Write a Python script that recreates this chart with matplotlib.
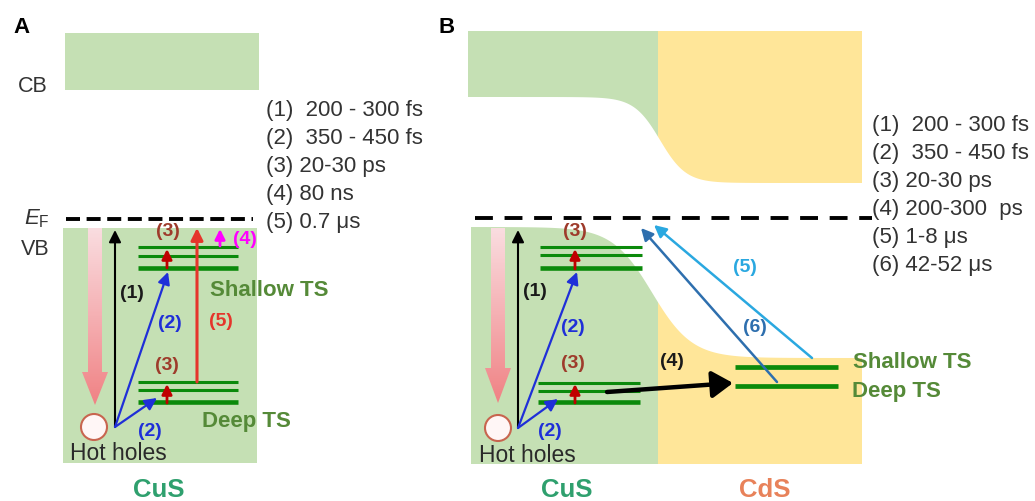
import numpy as np
import matplotlib
matplotlib.use('Agg')
import matplotlib.pyplot as plt
from matplotlib.patches import Polygon, Circle, Rectangle
from matplotlib.colors import LinearSegmentedColormap

plt.rcParams['font.family'] = ['Liberation Sans', 'DejaVu Sans']
plt.rcParams['mathtext.fontset'] = 'custom'
plt.rcParams['mathtext.rm'] = 'Liberation Sans'
plt.rcParams['mathtext.it'] = 'Liberation Sans:italic'

# 时间常数（图例文字）
lifetimes_A = ['(1)  200 - 300 fs', '(2)  350 - 450 fs', '(3) 20-30 ps',
               '(4) 80 ns', '(5) 0.7 μs']
lifetimes_B = ['(1)  200 - 300 fs', '(2)  350 - 450 fs', '(3) 20-30 ps',
               '(4) 200-300  ps', '(5) 1-8 μs', '(6) 42-52 μs']
materials = ['CuS', 'CdS']
band_labels = ['CB', 'VB']

# 颜色
GREEN_BAND = '#c5e0b4'
YELLOW_BAND = '#ffe699'
TS_GREEN = '#0b8a0b'
TS_TEXT = '#558a38'
BLUE = '#1f2fd8'
RED = '#e5352b'
DARK_RED = '#c00000'
BROWN = '#9e3b2b'
TXT = '#333333'

fig = plt.figure(figsize=(10.35, 5.01), dpi=100)
ax = fig.add_axes([0, 0, 1, 1])
ax.set_xlim(0, 1035)
ax.set_ylim(501, 0)
ax.axis('off')


def arrow(x0, y0, x1, y1, color, lw=1.5, hl=0.6, hw=0.3, ms=14, z=5):
    ax.annotate('', xy=(x1, y1), xytext=(x0, y0),
                arrowprops=dict(arrowstyle='-|>,head_length=%s,head_width=%s' % (hl, hw),
                                color=color, lw=lw, shrinkA=0, shrinkB=0,
                                mutation_scale=ms), zorder=z)


def label(x, y, s, color, size=14):
    ax.text(x, y, s, color=color, fontsize=size, fontweight='bold',
            ha='center', va='center', zorder=6)


def pink_arrow(cx, ytop, yhead, ytip):
    poly = Polygon([(cx - 7, ytop), (cx + 7, ytop), (cx + 7, yhead), (cx + 13, yhead),
                    (cx, ytip), (cx - 13, yhead), (cx - 7, yhead)],
                   closed=True, facecolor='none', edgecolor='none')
    ax.add_patch(poly)
    cmap = LinearSegmentedColormap.from_list('pk', ['#fadde0', '#f5b0b3', '#f08284'])
    grad = np.linspace(0, 1, 200).reshape(-1, 1)
    im = ax.imshow(grad, cmap=cmap, extent=(cx - 14, cx + 14, ytip, ytop),
                   aspect='auto', zorder=3)
    im.set_clip_path(poly)


def hot_hole(cx, cy):
    ax.add_patch(Circle((cx, cy), 13, facecolor='#fff6f6', edgecolor='#c8654f',
                        lw=1.5, zorder=4))


def ts_lines(x0, x1, levels, widths):
    for y, w in zip(levels, widths):
        ax.plot([x0, x1], [y, y], color=TS_GREEN, lw=w, solid_capstyle='butt', zorder=3)


# ---------------- A ----------------
ax.text(22, 27, 'A', fontsize=16, fontweight='bold', ha='center', va='center')
ax.add_patch(Rectangle((65, 33), 194, 57, facecolor=GREEN_BAND, edgecolor='none'))
ax.add_patch(Rectangle((63, 228), 194, 235, facecolor=GREEN_BAND, edgecolor='none'))
ax.text(33, 86, band_labels[0], fontsize=15.5, color=TXT, ha='center', va='center')
ax.text(35, 249, band_labels[1], fontsize=15.5, color=TXT, ha='center', va='center')
ax.text(37, 219, r'$E_\mathrm{F}$', fontsize=16, color=TXT, ha='center', va='center')
ax.plot([66, 253], [219, 219], color='black', lw=2.8, dashes=(3.6, 1.7), zorder=3)

pink_arrow(95, 228, 372, 405)
hot_hole(94, 427)
ts_lines(138, 238, [247, 256, 267.5], [2.2, 2.2, 3.3])
ts_lines(138, 238, [382, 389.5, 402], [2.2, 2.2, 3.3])

arrow(115, 427, 115, 230, 'black', lw=1.5, ms=12)
arrow(115, 427, 168, 272, BLUE, lw=1.6, ms=12)
arrow(115, 427, 157, 398, BLUE, lw=1.6, ms=12)
arrow(167, 268, 167, 249, DARK_RED, lw=2.0, ms=10)
arrow(167, 403, 167, 384, DARK_RED, lw=2.0, ms=10)
arrow(197, 382, 197, 228, RED, lw=2.2, ms=12)
arrow(220, 246, 220, 229, '#ff00ff', lw=2.0, ms=10)

label(132, 293, '(1)', '#1a1a1a')
label(170, 323, '(2)', BLUE)
label(150, 431, '(2)', BLUE)
label(168, 232, '(3)', BROWN)
label(167, 365, '(3)', BROWN)
label(221, 322, '(5)', RED)
label(245, 240, '(4)', '#ff00ff')

ax.text(210, 290, 'Shallow TS', fontsize=16, fontweight='bold', color=TS_TEXT,
        ha='left', va='center')
ax.text(202, 421, 'Deep TS', fontsize=16, fontweight='bold', color=TS_TEXT,
        ha='left', va='center')
ax.text(118, 454, 'Hot holes', fontsize=16.5, color='#2a2a2a', ha='center', va='center',
        zorder=6)
ax.text(159, 490, materials[0], fontsize=18.5, fontweight='bold', color='#2fa06e',
        ha='center', va='center')

for i, s in enumerate(lifetimes_A):
    ax.text(266, 110 + i * 28.2, s, fontsize=16, color=TXT, ha='left', va='center')

# ---------------- B ----------------
ax.text(447, 27, 'B', fontsize=16, fontweight='bold', ha='center', va='center')

xj = 658  # 异质结界面
xs_l = np.linspace(468, xj, 200)
xs_r = np.linspace(xj, 862, 200)


def cb_edge(x):
    return 97 + 86 / (1 + np.exp(-(x - 660) / 13.0))


def vb_edge(x):
    return 227 + 131 / (1 + np.exp(-(x - 652) / 20.0))


ax.add_patch(Polygon([(468, 31), (xj, 31)] + list(zip(xs_l[::-1], cb_edge(xs_l[::-1]))),
                     closed=True, facecolor=GREEN_BAND, edgecolor='none'))
ax.add_patch(Polygon([(xj, 31), (862, 31)] + list(zip(xs_r[::-1], cb_edge(xs_r[::-1]))),
                     closed=True, facecolor=YELLOW_BAND, edgecolor='none'))
xs_l2 = np.linspace(471, xj, 200)
ax.add_patch(Polygon(list(zip(xs_l2, vb_edge(xs_l2))) + [(xj, 464), (471, 464)],
                     closed=True, facecolor=GREEN_BAND, edgecolor='none'))
ax.add_patch(Polygon(list(zip(xs_r, vb_edge(xs_r))) + [(862, 464), (xj, 464)],
                     closed=True, facecolor=YELLOW_BAND, edgecolor='none'))

ax.plot([475, 872], [218, 218], color='black', lw=2.8, dashes=(4.6, 3.0), zorder=3)

pink_arrow(498, 228, 368, 403)
hot_hole(498, 428)
ts_lines(540, 642, [247, 254.5, 268], [2.2, 2.2, 3.3])
ts_lines(538, 640, [383, 390.5, 402], [2.2, 2.2, 3.3])
ts_lines(735, 838, [367, 386], [3.4, 3.4])

arrow(518, 428, 518, 230, 'black', lw=1.5, ms=12)
arrow(518, 428, 577, 272, BLUE, lw=1.6, ms=12)
arrow(518, 428, 558, 399, BLUE, lw=1.6, ms=12)
arrow(575, 269, 575, 249, DARK_RED, lw=2.0, ms=10)
arrow(575, 403, 575, 384, DARK_RED, lw=2.0, ms=10)
arrow(607, 392, 733, 383, 'black', lw=3.2, hl=0.7, hw=0.45, ms=18)
arrow(777, 382, 641, 228, '#2e6fae', lw=1.8, ms=12)
arrow(812, 358, 654, 225, '#2aa8e0', lw=1.8, ms=12)

label(535, 292, '(1)', '#1a1a1a')
label(573, 328, '(2)', BLUE)
label(550, 432, '(2)', BLUE)
label(575, 232, '(3)', BROWN)
label(573, 363, '(3)', BROWN)
label(672, 362, '(4)', '#1a1a1a')
label(745, 268, '(5)', '#2aa8e0')
label(755, 328, '(6)', '#2e6fae')

ax.text(853, 362, 'Shallow TS', fontsize=16, fontweight='bold', color=TS_TEXT,
        ha='left', va='center')
ax.text(852, 391, 'Deep TS', fontsize=16, fontweight='bold', color=TS_TEXT,
        ha='left', va='center')
ax.text(527, 456, 'Hot holes', fontsize=16.5, color='#2a2a2a', ha='center', va='center',
        zorder=6)
ax.text(567, 490, materials[0], fontsize=18.5, fontweight='bold', color='#2fa06e',
        ha='center', va='center')
ax.text(765, 490, materials[1], fontsize=18.5, fontweight='bold', color='#e8825a',
        ha='center', va='center')

for i, s in enumerate(lifetimes_B):
    ax.text(872, 125 + i * 28, s, fontsize=16, color=TXT, ha='left', va='center')

fig.savefig('out.png', dpi=100)
